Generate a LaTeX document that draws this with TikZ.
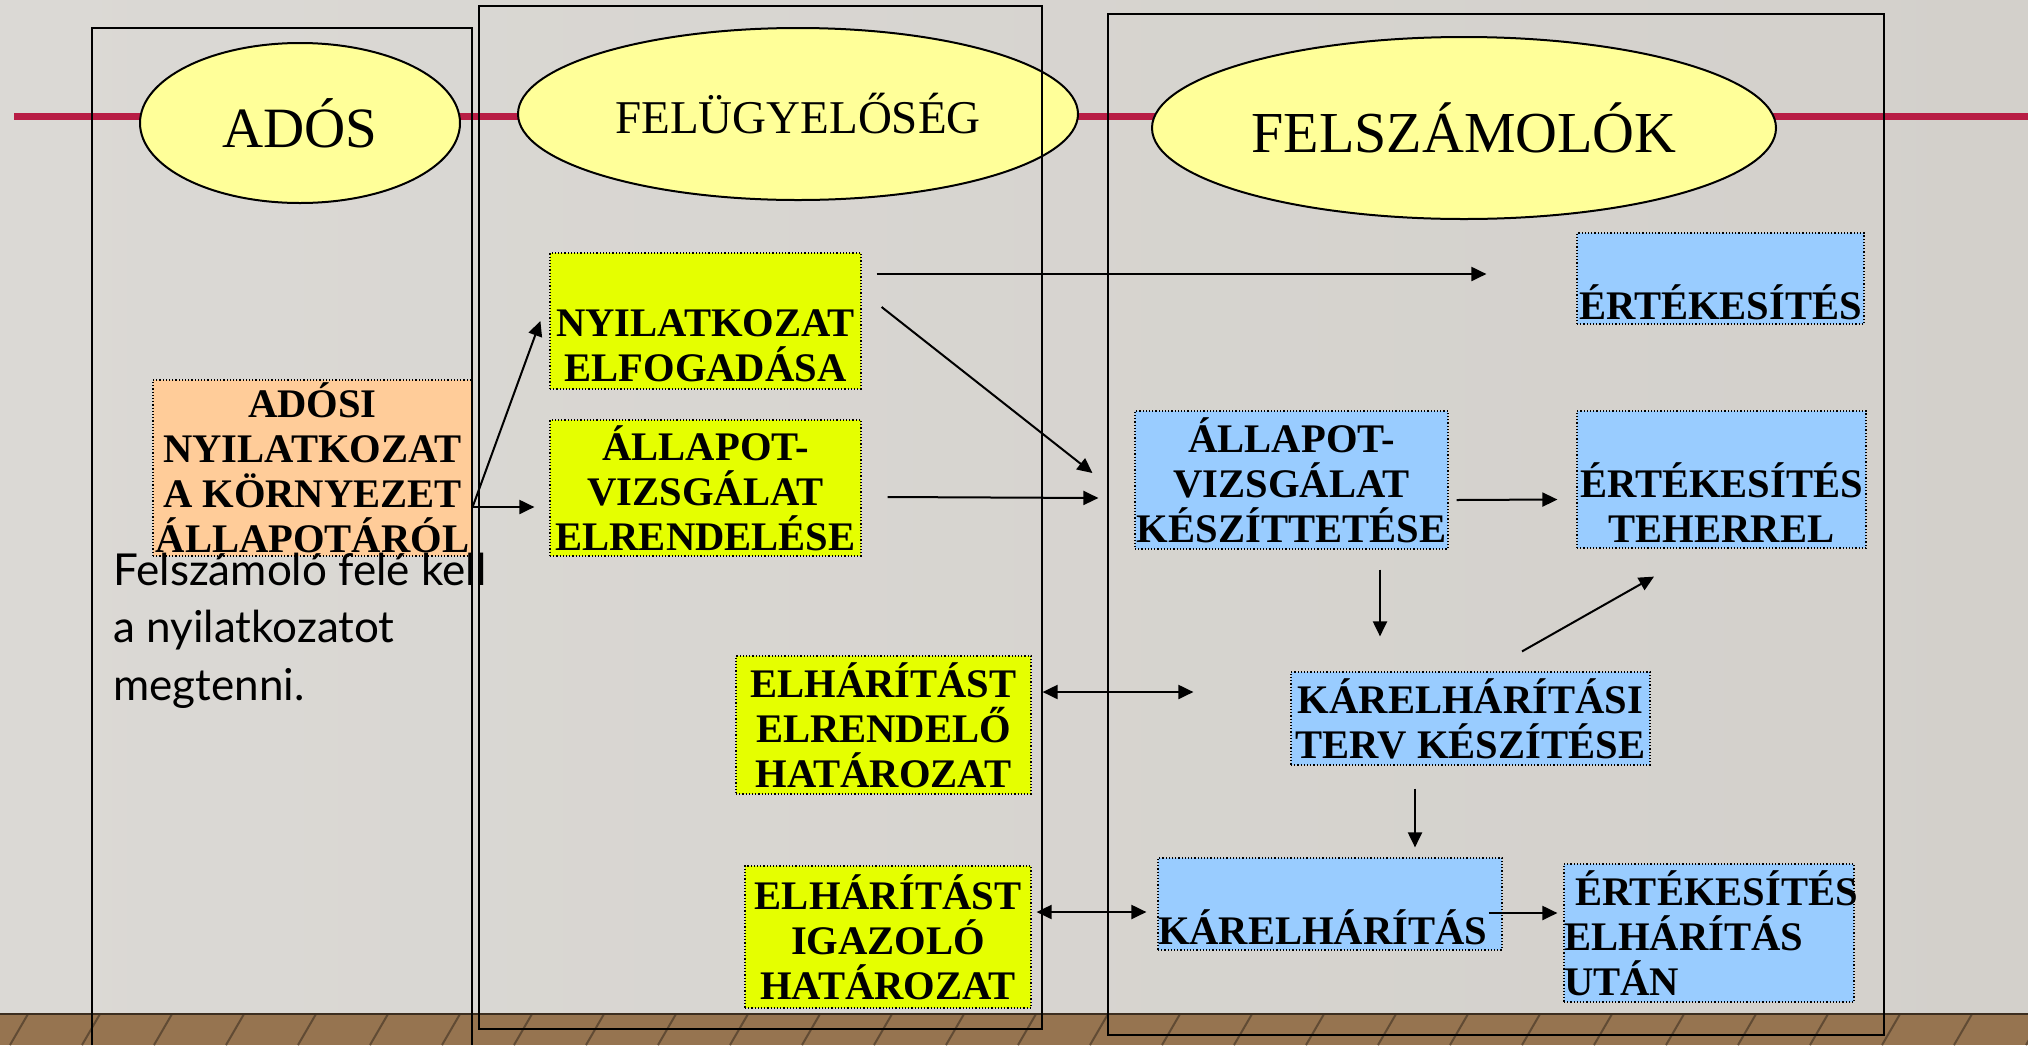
\documentclass[tikz,border=0pt]{standalone}
\usepackage{fontspec}
\setmainfont{Liberation Serif}
\newfontfamily\gillfont{Lato}
\usetikzlibrary{arrows.meta,shapes.geometric}

\definecolor{crimson}{HTML}{B81D45}
\definecolor{pale}{HTML}{FFFF99}
\definecolor{lime}{HTML}{E5FF00}
\definecolor{sky}{HTML}{99CCFF}
\definecolor{peach}{HTML}{FFCC99}
\definecolor{wood}{HTML}{967450}
\definecolor{wallL}{HTML}{DBD9D5}
\definecolor{wallM}{HTML}{E6E4E1}
\definecolor{wallR}{HTML}{D3D0CB}

\tikzset{
  col/.style={line width=0.75pt},
  head/.style={ellipse, draw, line width=1pt, fill=pale, inner sep=0pt},
  box/.style={draw, densely dotted, line width=0.6pt, inner sep=0pt, align=center,
    font=\fontsize{20.3}{22.5}\selectfont\bfseries},
  ybox/.style={box, fill=lime},
  bbox/.style={box, fill=sky},
  obox/.style={box, fill=peach},
  arr/.style={-{Triangle[length=7.5pt,width=7pt]}, line width=1pt},
  darr/.style={{Triangle[length=7.5pt,width=7pt]}-{Triangle[length=7.5pt,width=7pt]}, line width=1pt}
}

\begin{document}
\begin{tikzpicture}[x=0.5pt,y=-0.5pt]
  \useasboundingbox (0,0) rectangle (2028,1045);
  % slide background and floor
  \shade[left color=wallL, middle color=wallM, right color=wallR]
    (0,0) rectangle (2028,1014);
  \fill[wood] (0,1014) rectangle (2028,1045);
  \foreach \x in {10,82,...,2028}
    \draw[wood!65!black, line width=1pt] (\x,1045) -- (\x+18,1014);
  \draw[wood!40!black, line width=1.2pt] (0,1014) -- (2028,1014);
  \draw[crimson, line width=3.5pt] (14,116.5) -- (2028,116.5);

  % column heads
  \node[head, minimum width=160pt, minimum height=80pt, font=\fontsize{28.5}{30}\selectfont]
    (ados) at (300,123) {ADÓS};
  \node[head, minimum width=280pt, minimum height=86pt, font=\fontsize{23.5}{25}\selectfont]
    (felu) at (798,114) {FELÜGYELŐSÉG};
  \node[head, minimum width=312pt, minimum height=91pt, font=\fontsize{29}{31}\selectfont]
    (felsz) at (1464,128) {FELSZÁMOLÓK};

  % steps
  \node[obox, minimum width=159.5pt, minimum height=88pt] (adosi) at (312.5,468)
    {ADÓSI\\NYILATKOZAT\\A KÖRNYEZET\\ÁLLAPOTÁRÓL};
  \node[ybox, minimum width=155.5pt, minimum height=68pt] (nyil) at (705.5,321)
    {\strut\\NYILATKOZAT\\ELFOGADÁSA};
  \node[ybox, minimum width=155.5pt, minimum height=68pt] (allel) at (705.5,488)
    {ÁLLAPOT-\\VIZSGÁLAT\\ELRENDELÉSE};
  \node[ybox, minimum width=147.5pt, minimum height=69pt] (elrend) at (883.5,725)
    {ELHÁRÍTÁST\\ELRENDELŐ\\HATÁROZAT};
  \node[ybox, minimum width=143pt, minimum height=71pt] (igaz) at (888,937)
    {ELHÁRÍTÁST\\IGAZOLÓ\\HATÁROZAT};
  \node[bbox, minimum width=143.5pt, minimum height=45.5pt] (ertek) at (1720.5,278.5)
    {\strut\\ÉRTÉKESÍTÉS};
  \node[bbox, minimum width=156.5pt, minimum height=69pt] (allkesz) at (1291.5,480)
    {ÁLLAPOT-\\VIZSGÁLAT\\KÉSZÍTTETÉSE};
  \node[bbox, minimum width=144.5pt, minimum height=68.5pt] (terh) at (1721.5,479.5)
    {\strut\\ÉRTÉKESÍTÉS\\TEHERREL};
  \node[bbox, minimum width=179.5pt, minimum height=46.5pt] (terv) at (1470.5,718.5)
    {KÁRELHÁRÍTÁSI\\TERV KÉSZÍTÉSE};
  \node[bbox, minimum width=172pt, minimum height=46pt, text width=172pt, align=left]
    (karelh) at (1330,904) {\strut\\KÁRELHÁRÍTÁS};
  \node[bbox, minimum width=145pt, minimum height=69pt, text width=145pt, align=left]
    (utan) at (1709,933) {\hspace*{5.5pt}ÉRTÉKESÍTÉS\\ELHÁRÍTÁS\\UTÁN};

  \node[font=\gillfont\fontsize{22}{28.75}\selectfont, align=left, anchor=base west, inner sep=0pt]
    (note) at (113,700) {Felszámoló felé kell\\a nyilatkozatot\\megtenni.};

  % connectors
  \draw[arr] ([yshift=-19.5pt]adosi.east) -- ([xshift=-4.5pt]nyil.west);
  \draw[arr] ([yshift=-19.5pt]adosi.east) -- ([xshift=-7.5pt,yshift=-9.5pt]allel.west);
  \draw[arr] ([xshift=7.5pt,yshift=23.5pt]nyil.east) -- ([xshift=-45pt,yshift=2.25pt]ertek.west);
  \draw[arr] ([xshift=10pt,yshift=7pt]nyil.east) -- ([xshift=-21pt,yshift=3.5pt]allkesz.west);
  \draw[arr] ([xshift=13pt,yshift=-4.5pt]allel.east) -- ([xshift=-18pt,yshift=-9pt]allkesz.west);
  \draw[arr] ([xshift=4pt,yshift=-10pt]allkesz.east) -- ([xshift=-9.5pt,yshift=-10pt]terh.west);
  \draw[arr] ([xshift=44.25pt,yshift=-10pt]allkesz.south) -- ([xshift=-45.25pt,yshift=17.5pt]terv.north);
  \draw[arr] ([xshift=25.75pt,yshift=10pt]terv.north) -- ([xshift=-33.75pt,yshift=-14pt]terh.south);
  \draw[darr] ([xshift=5.5pt,yshift=16.5pt]elrend.east) -- ([xshift=-48.5pt,yshift=13.25pt]terv.west);
  \draw[arr] ([xshift=-27.75pt,yshift=-11.5pt]terv.south) -- ([xshift=42.5pt,yshift=5pt]karelh.north);
  \draw[darr] ([xshift=2.5pt,yshift=12.5pt]igaz.east) -- ([xshift=-5.5pt,yshift=-4pt]karelh.west);
  \draw[arr] ([xshift=-7pt,yshift=-4.5pt]karelh.east) -- ([xshift=-3pt,yshift=10pt]utan.west);

  % columns
  \draw[col] (92,1045) -- (92,28) -- (472,28) -- (472,1045);
  \draw[col] (479,6) rectangle (1042,1029);
  \draw[line width=1.3pt] (479,1029) -- (1042,1029);
  \draw[col] (1108,14) rectangle (1884,1035);
  \draw[line width=1.3pt] (1108,1035) -- (1884,1035);
\end{tikzpicture}
\end{document}
